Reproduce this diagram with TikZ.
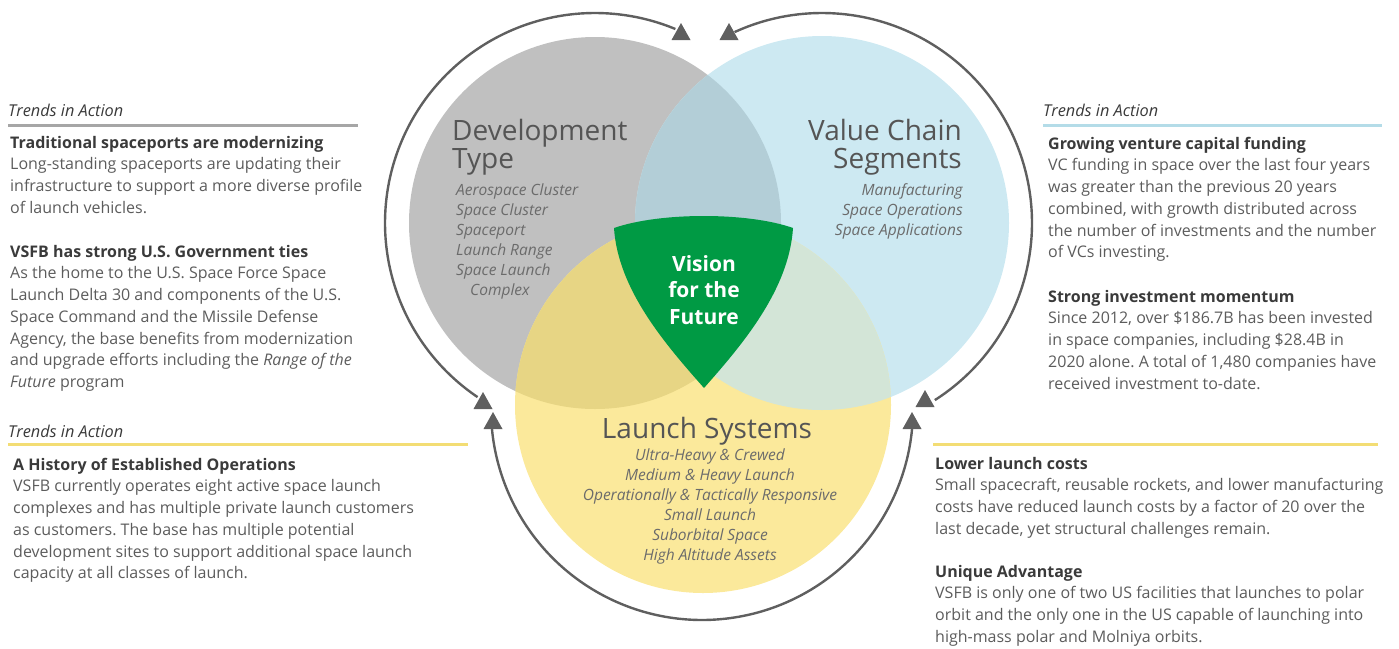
\documentclass[tikz,border=0pt]{standalone}
\usepackage{fontspec}
\setmainfont{Open Sans}
\frenchspacing
\definecolor{cgrey}{HTML}{C0C0C0}
\definecolor{cblue}{HTML}{CDE9F2}
\definecolor{cyellow}{HTML}{FBE99B}
\definecolor{cgb}{HTML}{B3CED7}
\definecolor{cgy}{HTML}{E7D584}
\definecolor{cby}{HTML}{D3E5D7}
\definecolor{cgby}{HTML}{C9D6B4}
\definecolor{cgreen}{HTML}{009A44}
\definecolor{carrow}{HTML}{5F5F5F}
\definecolor{hdcol}{HTML}{3A3A3A}
\definecolor{bodycol}{HTML}{5C5C5C}
\definecolor{titlecol}{HTML}{555555}
\definecolor{itemcol}{HTML}{6B6B6B}
\definecolor{rulegrey}{HTML}{A6A6A6}
\definecolor{ruleyellow}{HTML}{F3DD74}
\definecolor{ruleblue}{HTML}{B4DCE8}
\newcommand\fr[1]{\rule{0pt}{#1pt}}
\newcommand\hd[1]{{\color{hdcol}\bfseries #1}}
\begin{document}
\begin{tikzpicture}[x=1pt,y=-1pt,
  para/.style={anchor=north west, inner sep=0pt, align=left, text=bodycol,
    font=\fontsize{16}{21.7}\selectfont\frenchspacing},
  trend/.style={anchor=north west, inner sep=0pt, text=hdcol,
    font=\fontsize{16.3}{20}\selectfont\itshape},
  title/.style={inner sep=0pt, text=titlecol, font=\fontsize{28}{28}\selectfont},
  items/.style={inner sep=0pt, text=itemcol, font=\fontsize{15.5}{20}\selectfont\itshape},
  arc/.style={draw=carrow, line width=2.4pt},
  tip/.style={fill=carrow},
  rulebar/.style={line width=3pt}
]
\useasboundingbox (0,0) rectangle (1399,648);
% circle centres
\coordinate (G) at (595,223);
\coordinate (B) at (822,223);
\coordinate (Y) at (703,405);
% base circles
\fill[cgrey] (G) circle[radius=186];
\fill[cblue] (B) circle[radius=187];
\fill[cyellow] (Y) circle[radius=188];
\begin{scope}\clip (G) circle[radius=186]; \fill[cgb] (B) circle[radius=187];\end{scope}
\begin{scope}\clip (G) circle[radius=186]; \fill[cgy] (Y) circle[radius=188];\end{scope}
\begin{scope}\clip (B) circle[radius=187]; \fill[cby] (Y) circle[radius=188];\end{scope}
\begin{scope}\clip (G) circle[radius=186]; \clip (B) circle[radius=187]; \fill[cgby] (Y) circle[radius=188];\end{scope}
% green shield
\fill[cgreen] (614,228) .. controls (660,212) and (748,212) .. (793,228)
  .. controls (789,290) and (742,345) .. (704,388)
  .. controls (666,345) and (618,290) .. (614,228) -- cycle;
\node[inner sep=0pt, text=white, align=center, font=\fontsize{21}{26.5}\selectfont\bfseries] (vision) at (704,290) {Vision\\for the\\Future};
% cycle arrows
\coordinate (t1) at (681,23);
\coordinate (t2) at (729,23);
\coordinate (t3) at (483,392);
\coordinate (t4) at (493,412);
\coordinate (t5) at (925,390);
\coordinate (t6) at (912,412);
\draw[arc] plot[domain=124:292.5, samples=90, smooth] ({595+210*cos(\x)},{223+210*sin(\x)});
\draw[arc] plot[domain=-114.6:57.5, samples=90, smooth] ({822+210*cos(\x)},{223+210*sin(\x)});
\draw[arc] plot[domain=5.2:174.8, samples=90, smooth] ({702+211*cos(\x)},{409+211*sin(\x)});
\foreach \t in {t1,t2,t3,t4,t5,t6}{
  \fill[tip] (\t) -- ++(9.5,17) -- ++(-19,0) -- cycle;
}
% circle titles
\node[title, anchor=north west, align=left] (devtitle) at (452,114) {\fr{26}Development\\Type};
\node[title, anchor=north east, align=right] (valtitle) at (962,114) {\fr{26}Value Chain\\Segments};
\node[title, anchor=north] (launchtitle) at (707,412) {\fr{26}Launch Systems};
\node[items, anchor=north west, align=left] (devitems) at (456,181) {\fr{14}Aerospace Cluster\\Space Cluster\\Spaceport\\Launch Range\\Space Launch\\\hspace*{14pt}Complex};
\node[items, anchor=north east, align=right] (valitems) at (963,181) {\fr{14}Manufacturing\\Space Operations\\Space Applications};
\node[items, anchor=north, align=center] (launchitems) at (710,446) {\fr{14}Ultra-Heavy \& Crewed\\Medium \& Heavy Launch\\Operationally \& Tactically Responsive\\Small Launch\\Suborbital Space\\High Altitude Assets};
% left top block
\node[trend] (tl) at (8,102) {\fr{14}Trends in Action};
\draw[rulebar, rulegrey] (8,125) -- (358,125);
\node[para] (l1) at (10,134) {\fr{14}\hd{Traditional spaceports are modernizing}\\Long-standing spaceports are updating their\\infrastructure to support a more diverse profile\\of launch vehicles.};
\node[para] (l2) at (10,243) {\fr{14}\hd{VSFB has strong U.S. Government ties}\\As the home to the U.S. Space Force Space\\Launch Delta 30 and components of the U.S.\\Space Command and the Missile Defense\\Agency, the base benefits from modernization\\and upgrade efforts including the \textit{Range of the}\\\textit{Future} program};
% left bottom block
\node[trend] (tl2) at (8,423) {\fr{14}Trends in Action};
\draw[rulebar, ruleyellow] (8,444) -- (468,444);
\node[para] (l3) at (13,456) {\fr{14}\hd{A History of Established Operations}\\VSFB currently operates eight active space launch\\complexes and has multiple private launch customers\\as customers. The base has multiple potential\\development sites to support additional space launch\\capacity at all classes of launch.};
% right top block
\node[trend] (tr) at (1043,102) {\fr{14}Trends in Action};
\draw[rulebar, ruleblue] (1043,125) -- (1382,125);
\node[para] (r1) at (1048,135) {\fr{14}\hd{Growing venture capital funding}\\VC funding in space over the last four years\\was greater than the previous 20 years\\combined, with growth distributed across\\the number of investments and the number\\of VCs investing.};
\node[para] (r2) at (1048,288) {\fr{14}\hd{Strong investment momentum}\\Since 2012, over \$186.7B has been invested\\in space companies, including \$28.4B in\\2020 alone. A total of 1,480 companies have\\received investment to-date.};
% right bottom block
\draw[rulebar, ruleyellow] (933,444) -- (1378,444);
\node[para] (r3) at (935,455) {\fr{14}\hd{Lower launch costs}\\Small spacecraft, reusable rockets, and lower manufacturing\\costs have reduced launch costs by a factor of 20 over the\\last decade, yet structural challenges remain.};
\node[para] (r4) at (935,563) {\fr{14}\hd{Unique Advantage}\\VSFB is only one of two US facilities that launches to polar\\orbit and the only one in the US capable of launching into\\high-mass polar and Molniya orbits.};
\end{tikzpicture}
\end{document}
